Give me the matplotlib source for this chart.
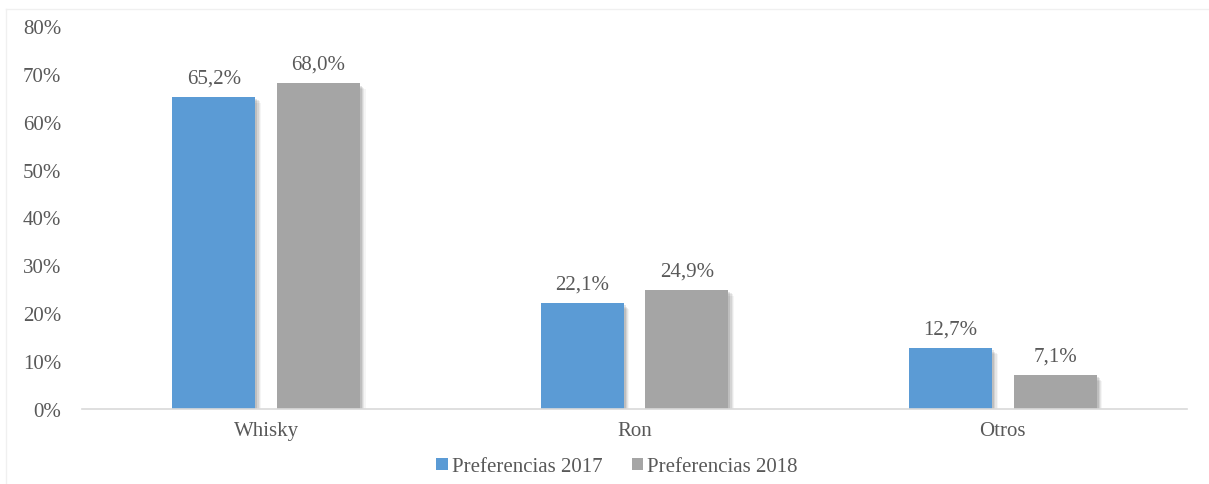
import matplotlib
matplotlib.use("Agg")
import matplotlib.pyplot as plt
import matplotlib.patheffects as pe
from matplotlib.patches import Patch
from matplotlib.lines import Line2D
import numpy as np

categories = ["Whisky", "Ron", "Otros"]
series_names = ["Preferencias 2017", "Preferencias 2018"]
values_2017 = [65.2, 22.1, 12.7]
values_2018 = [68.0, 24.9, 7.1]
yticks = [0, 10, 20, 30, 40, 50, 60, 70, 80]

colors = ["#5B9BD5", "#A5A5A5"]
text_color = "#595959"
fs = 15

plt.rcParams['font.family'] = ['Liberation Serif', 'DejaVu Serif']

fig = plt.figure(figsize=(12.09, 4.85), dpi=100)
ax = fig.add_axes([82/1209, 1 - 410/485, (1187-82)/1209, (410-27)/485])

# faint figure border (top and left visible)
fig.lines.append(Line2D([6/1209, 1.0], [1 - 10/485, 1 - 10/485], transform=fig.transFigure,
                        color="#F0F0F0", linewidth=1.0))
fig.lines.append(Line2D([6/1209, 6/1209], [0, 1 - 10/485], transform=fig.transFigure,
                        color="#F0F0F0", linewidth=1.0))

x = np.arange(len(categories))
width = 0.225
offset = 0.142

shadow = []
for i, a in enumerate([0.10, 0.08, 0.06, 0.04]):
    shadow.append(pe.SimplePatchShadow(offset=(1.5 + i*0.9, -1.5 - i*0.9), shadow_rgbFace="#000000", alpha=a))
shadow.append(pe.Normal())

for vals, col, sgn in [(values_2017, colors[0], -1), (values_2018, colors[1], 1)]:
    bars = ax.bar(x + sgn*offset, vals, width, color=col, zorder=3)
    for b in bars:
        b.set_path_effects(shadow)
    for xi, v in zip(x + sgn*offset, vals):
        ax.annotate(f"{v:.1f}%".replace(".", ","), (xi, v), xytext=(0, 7), textcoords="offset points",
                    ha="center", va="bottom", fontsize=fs, color=text_color)

ax.set_xlim(-0.5, 2.5)
ax.set_ylim(0, 80)
ax.set_yticks(yticks)
ax.set_yticklabels([f"{t}%" for t in yticks], fontsize=fs, color=text_color)
ax.set_xticks(x)
ax.set_xticklabels(categories, fontsize=fs, color=text_color)
ax.tick_params(axis="both", length=0)
ax.tick_params(axis="y", pad=15)
ax.tick_params(axis="x", pad=9)
for s in ["top", "right", "left"]:
    ax.spines[s].set_visible(False)
ax.spines["bottom"].set_color("#D9D9D9")
ax.spines["bottom"].set_linewidth(1.2)
ax.spines["bottom"].set_zorder(4)

handles = [Patch(facecolor=c, edgecolor="none") for c in colors]
fig.legend(handles, series_names, loc="center", bbox_to_anchor=(617/1209, 1 - 468/485), ncol=2,
           frameon=False, fontsize=fs, labelcolor=text_color, handlelength=0.55, handleheight=0.55,
           handletextpad=0.2, columnspacing=1.4)

fig.savefig("out.png", dpi=100)
